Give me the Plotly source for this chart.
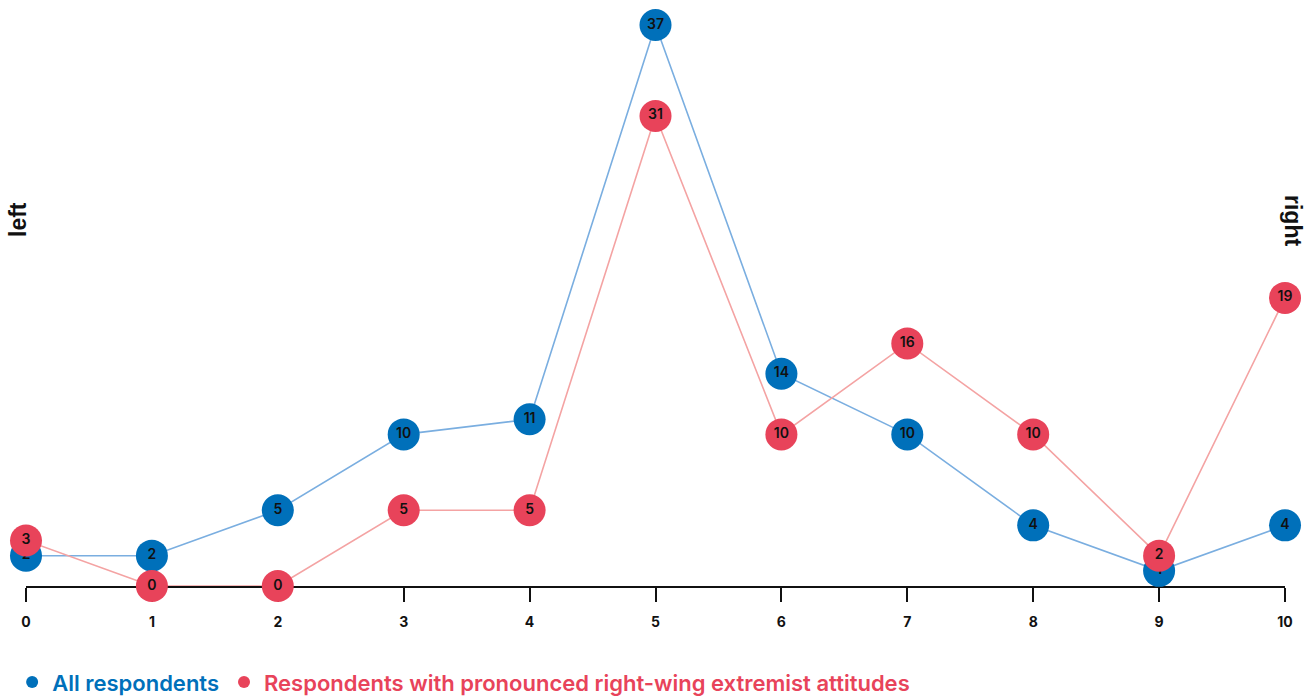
import plotly.graph_objects as go

scale = list(range(0, 11))
tick_labels = [str(v) for v in scale]
all_resp = [2, 2, 5, 10, 11, 37, 14, 10, 4, 1, 4]
extreme = [3, 0, 0, 5, 5, 31, 10, 16, 10, 2, 19]

BLUE = "#0070BA"
BLUE_LINE = "#7AAEE0"
RED = "#E8435A"
RED_LINE = "#F4A3A3"

fig = go.Figure()

fig.add_trace(go.Scatter(
    x=scale, y=all_resp, mode="lines+markers+text",
    text=[str(v) for v in all_resp], textposition="middle center",
    textfont=dict(family="Inter", size=14, color="#111111", weight=600),
    line=dict(color=BLUE_LINE, width=1.6),
    marker=dict(size=32, color=BLUE),
    cliponaxis=False, showlegend=False, hoverinfo="skip"))

fig.add_trace(go.Scatter(
    x=scale, y=extreme, mode="lines+markers+text",
    text=[str(v) for v in extreme], textposition="middle center",
    textfont=dict(family="Inter", size=14, color="#111111", weight=600),
    line=dict(color=RED_LINE, width=1.6),
    marker=dict(size=32, color=RED),
    cliponaxis=False, showlegend=False, hoverinfo="skip"))

fig.add_trace(go.Scatter(
    x=[None], y=[None], mode="markers", marker=dict(size=14, color=BLUE),
    name=f"<span style='color:{BLUE}'>All respondents</span>"))
fig.add_trace(go.Scatter(
    x=[None], y=[None], mode="markers", marker=dict(size=14, color=RED),
    name=f"<span style='color:{RED}'>Respondents with pronounced right-wing extremist attitudes</span>"))

L, R, T, B = 26, 30, 25, 111
W, H = 1315, 697
pw = W - L - R
ph = H - T - B

fig.update_layout(
    width=W, height=H,
    margin=dict(l=L, r=R, t=T, b=B, autoexpand=False),
    paper_bgcolor="white", plot_bgcolor="white",
    xaxis=dict(range=[0, 10], tickvals=scale, ticktext=tick_labels,
               showgrid=False, zeroline=False, showline=True,
               linecolor="#111111", linewidth=2, layer="below traces",
               ticks="outside", ticklen=14, tickwidth=2, tickcolor="#111111",
               ticklabelstandoff=8,
               tickfont=dict(family="Inter", size=14, color="#111111", weight=700),
               fixedrange=True),
    yaxis=dict(range=[0, 37], visible=False, fixedrange=True),
    legend=dict(orientation="h", x=-0.011, xanchor="left", y=-0.134, yanchor="top",
                font=dict(family="Inter", size=22, weight=600),
                itemsizing="constant", itemwidth=30, traceorder="normal"),
    annotations=[
        dict(text="<b>left</b>", x=(18 - L) / pw, y=(H - B - 220) / ph,
             xref="paper", yref="paper", xanchor="center", yanchor="middle",
             showarrow=False, textangle=-90,
             font=dict(family="Liberation Sans", size=23, color="#111111")),
        dict(text="<b>right</b>", x=(1293 - L) / pw, y=(H - B - 220) / ph,
             xref="paper", yref="paper", xanchor="center", yanchor="middle",
             showarrow=False, textangle=90,
             font=dict(family="Liberation Sans", size=23, color="#111111")),
    ],
)

fig.write_html("out.html", config={"displayModeBar": False},
               post_script="document.body.style.margin='0';document.body.style.overflow='hidden';")
